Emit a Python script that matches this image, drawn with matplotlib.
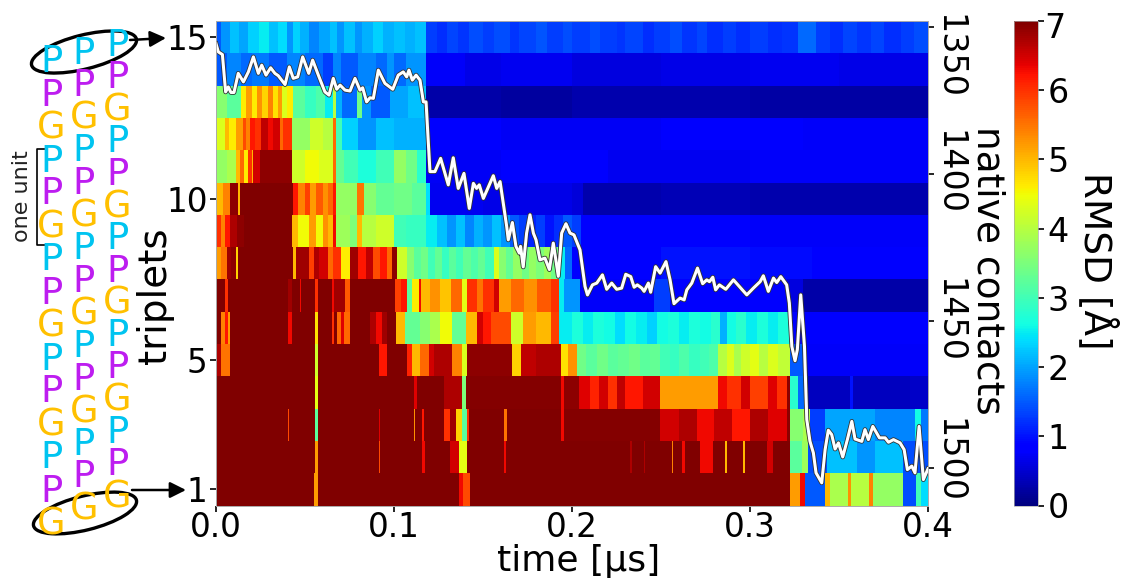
import matplotlib
matplotlib.use("Agg")
import matplotlib.pyplot as plt
from matplotlib.patches import Ellipse

# RMSD per triplet, run-length form: time where a run ends [us] and its value [A]
row_15_end = [.003,.008,.013,.018,.024,.030,.035,.040,.043,.047,.052,.058,.064,.068,.072,.078,.082,.088,.094,.100,.106,.112,.118,.124,.13,.136,.142,.15,.156,.165,.17,.18,.186,.195,.2,.21,.216,.225,.23,.24,.246,.255,.262,.27,.276,.285,.292,.3,.31,.318,.327,.337,.345,.352,.36,.368,.375,.385,.392,.4]
row_15_val = [1.5,1.9,2.2,2.0,2.3,2.5,2.2,2.4,1.9,2.3,2.1,1.8,2.0,2.2,1.9,2.2,1.9,2.1,2.3,2.1,2.2,2.1,2.2,1.3,1.2,1.35,1.25,1.4,1.3,1.4,1.25,1.35,1.45,1.3,1.4,1.3,1.4,1.3,1.25,1.35,1.2,1.3,1.4,1.25,1.35,1.2,1.3,1.2,1.3,1.2,1.25,1.6,1.3,1.2,1.35,1.25,1.35,1.2,1.3,1.4]
row_14_end = [.006,.014,.02,.03,.04,.05,.06,.066,.07,.08,.09,.096,.1,.107,.118,.14,.16,.2,.25,.3,.35,.4]
row_14_val = [1.5,1.8,1.6,1.7,1.5,1.8,1.6,1.3,1.8,1.5,1.8,1.6,1.9,1.6,1.9,.75,.65,.7,.6,.65,.7,.65]
row_13_end = [.006,.014,.017,.02,.023,.026,.029,.032,.035,.037,.04,.043,.05,.056,.061,.066,.0675,.071,.079,.082,.087,.098,.108,.118,.16,.2,.3,.4]
row_13_val = [3.6,3.2,4.6,5.2,4.6,5.3,4.8,5.4,4.7,5.2,4.3,4.6,3.2,2.9,3.1,2.5,4.0,2.1,1.6,3.4,1.9,1.5,2.0,2.2,.25,.2,.28,.22]
row_12_end = [.005,.0075,.011,.015,.017,.019,.022,.025,.029,.032,.036,.0378,.0425,.0528,.06,.066,.0675,.071,.08,.09,.1,.118,.16,.25,.33,.4]
row_12_val = [4.3,5.0,4.6,5.2,5.8,5.4,6.2,6.0,6.6,6.3,6.5,5.6,6.0,3.7,4.2,4.0,5.6,3.0,2.3,1.9,2.2,2.1,.78,.72,.78,.74]
row_11_end = [.006,.011,.0135,.016,.018,.02,.021,.0245,.0425,.05,.058,.066,.0675,.072,.08,.09,.1,.107,.113,.118,.16,.22,.3,.4]
row_11_val = [3.7,3.9,5.0,5.6,4.6,6.0,5.0,6.5,6.9,4.2,4.5,4.3,5.6,3.3,3.0,2.7,3.0,3.7,3.4,2.8,.72,.78,.7,.75]
row_10_end = [.004,.008,.0125,.0135,.0435,.046,.05,.053,.056,.06,.063,.066,.0675,.079,.083,.09,.1,.11,.118,.12,.15,.2,.206,.25,.3,.4]
row_10_val = [5.0,5.4,6.9,5.0,7,6.2,5.4,5.9,5.2,5.7,5.3,5.6,6.2,3.7,5.5,3.6,3.3,3.4,3.2,2.4,.7,.65,.55,.3,.33,.28]
row_9_end = [.003,.005,.008,.012,.016,.0425,.046,.052,.056,.06,.063,.066,.0675,.075,.079,.082,.09,.1,.107,.118,.124,.13,.135,.14,.145,.15,.155,.16,.165,.17,.175,.18,.185,.19,.195,.2,.205,.3,.4]
row_9_val = [6.0,5.4,6.2,6.7,6.9,7,5.0,4.5,5.2,4.5,5.3,5.0,6.3,3.8,3.5,5.0,4.0,4.2,3.0,2.9,2.5,2.2,1.9,2.2,1.8,2.1,1.9,2.2,1.9,1.5,1.3,1.1,1.3,1.0,1.2,1.5,1.3,.8,.75]
row_8_end = [.003,.006,.0085,.011,.0125,.043,.045,.052,.055,.058,.063,.066,.07,.0755,.08,.084,.088,.092,.096,.099,.1017,.1073,.111,.115,.119,.123,.127,.131,.135,.139,.143,.147,.151,.156,.159,.163,.167,.172,.176,.18,.184,.188,.192,.196,.2,.25,.3,.335,.4]
row_8_val = [5.2,5.5,6.8,6.9,4.8,7,5.0,6.8,5.9,6.7,6.5,5.6,6.0,4.6,6.8,6.2,6.6,5.8,6.2,5.6,6.9,4.2,3.6,3.2,3.4,3.0,3.3,2.9,3.2,3.0,3.3,3.1,3.3,3.0,4.3,3.6,3.3,3.7,3.4,3.7,3.5,3.8,3.4,2.5,1.6,.8,1.0,.95,.8]
row_7_end = [.0049,.0068,.0405,.0425,.047,.048,.0556,.0575,.065,.0664,.0726,.0754,.1008,.104,.1073,.1102,.1139,.1152,.1205,.126,.1318,.1383,.1412,.1468,.15,.1562,.159,.1656,.1731,.1806,.1882,.1929,.1957,.2047,.2458,.2551,.3206,.33,.4]
row_7_val = [7,6,7,6.8,7,6.3,7,6,7,6.3,6.8,5.7,7,5.9,6.2,3.2,4.6,6.3,5.0,5.3,4.9,5.6,4.4,6.0,5.5,6.0,6.5,5.2,5.6,5.3,5.7,6.0,2.5,1.9,.75,1.3,.85,.6,.25]
row_6_end = [.003,.005,.0065,.0077,.0405,.0425,.0556,.0575,.065,.0664,.0679,.0705,.072,.0754,.0867,.09,.093,.0961,.1013,.1064,.1148,.1205,.1261,.1327,.1402,.1468,.15,.1543,.1656,.1722,.1797,.1882,.1929,.2,.206,.212,.218,.224,.23,.236,.242,.248,.254,.26,.266,.272,.278,.2832,.2869,.292,.298,.304,.31,.316,.3224,.4]
row_6_val = [7,5.4,6.2,5.2,7,6.3,7,4.7,7,6,7,5.6,6.4,5.6,7,6.7,6.3,6.8,7,5.0,3.3,3.6,3.9,4.5,3.3,5.0,6.5,6.2,5.8,4.2,5.2,5.0,5.9,2.5,2.7,2.5,2.7,2.6,2.4,2.6,2.5,2.3,2.6,2.7,2.5,2.7,2.6,2.8,2.1,2.6,2.8,2.5,2.7,2.5,2.7,.8]
row_5_end = [.003,.0077,.0556,.0575,.0914,.0961,.1073,.1102,.1148,.1195,.1224,.1327,.1383,.1408,.1665,.1712,.18,.1938,.198,.2028,.208,.214,.22,.226,.232,.238,.244,.2495,.255,.26,.266,.272,.277,.2822,.287,.291,.295,.3,.305,.31,.316,.3224,.3308,.4]
row_5_val = [6.7,5.5,7,4.2,7,6.2,7,6.1,5.0,5.6,6.5,6.7,5.4,4.3,6.9,4.8,6.6,6.7,4.7,5.3,3.4,3.2,3.4,3.2,3.3,3.4,3.2,3.3,3.0,2.9,3.1,2.9,3.0,3.1,4.0,4.3,3.9,4.2,4.4,4.0,4.3,4.1,1.5,.75]
row_4_end = [.0556,.0575,.111,.113,.128,.1383,.1402,.1938,.1955,.2037,.21,.215,.22,.225,.23,.24,.2495,.2822,.2869,.295,.3,.31,.315,.3206,.3224,.3271,.3327,.3561,.3579,.39,.4]
row_4_val = [7,4.4,7,6.4,7,6.7,3.5,6.95,6.3,6.9,6.4,6.1,6.5,6.0,6.6,6.2,6.5,5.2,6.3,6.0,6.5,5.9,6.4,6.0,6.9,2.8,1.6,.4,1.0,.4,.45]
row_3_end = [.0405,.0412,.0556,.0575,.0914,.0923,.1111,.112,.1155,.1167,.128,.1315,.1348,.1383,.1412,.1422,.1618,.1637,.1938,.1955,.2495,.26,.27,.28,.29,.30,.31,.3206,.3224,.3299,.3336,.3421,.37,.3925,.3963,.4]
row_3_val = [7,5.8,7,3.2,7,6.4,7,5.3,7,6.2,7,6.0,6.8,4.8,3.2,6.0,7,5.5,7,6.3,6.95,6.5,6.7,6.3,6.6,6.2,6.7,6.4,6.9,3.6,3.9,1.3,2.0,1.8,2.6,1.7]
row_2_end = [.0556,.0575,.0914,.0923,.1155,.1175,.1315,.1363,.1412,.1618,.1632,.2327,.2336,.2402,.241,.2561,.257,.2617,.2636,.272,.2794,.286,.2869,.2963,.2972,.3093,.313,.3224,.329,.3327,.343,.36,.37,.386,.4]
row_2_val = [7,5.2,7,5.8,7,6.3,7,6.5,4.4,7,6.3,7,6.7,7,6.7,7,5.4,7,6.3,7,6.3,7,5,7,5,7,6.5,7,3.2,3.8,1.4,2.2,1.9,2.2,1.4]
row_1_end = [.0551,.0575,.1365,.139,.1427,.3224,.328,.3308,.3421,.3449,.355,.3565,.367,.369,.386,.3935,.3963,.4]
row_1_val = [7,5.2,7,6.3,5.8,7,5.2,6.3,1.5,5.0,3.9,5.3,4.0,5.4,3.7,1.4,3.0,2.4]

# native contacts trace
contact_time = [0,.0013,.0036,.0054,.0069,.0084,.0101,.0125,.0154,.0182,.021,.0238,.0257,.0281,.0307,.0331,.035,.0388,.0412,.0434,.0459,.0487,.0521,.0543,.0575,.0612,.0635,.0659,.0678,.0697,.0725,.0753,.0781,.0809,.0824,.0846,.0865,.0884,.0912,.0949,.0993,.1024,.1052,.1071,.1084,.1103,.1124,.1146,.1165,.118,.1202,.123,.1262,.1305,.1333,.1361,.1393,.1423,.1446,.1464,.1479,.1502,.1558,.1577,.1596,.1633,.1642,.1665,.1685,.1704,.1711,.1726,.1745,.1764,.1783,.1798,.182,.1848,.1873,.1895,.1923,.1942,.1966,.1989,.2011,.2045,.2073,.2087,.2115,.2139,.2171,.2195,.2223,.2251,.2279,.2302,.233,.2349,.2367,.2392,.2405,.2429,.2442,.247,.2495,.2528,.2551,.2573,.2607,.263,.2645,.2673,.2705,.2734,.2757,.2772,.2791,.2807,.2828,.2864,.2907,.2944,.2982,.3019,.3057,.3075,.3103,.3132,.315,.3173,.3206,.3221,.3235,.3253,.3266,.3285,.3306,.3319,.3337,.3356,.3371,.3403,.3422,.344,.3459,.3478,.3497,.3521,.3547,.3572,.359,.3628,.3646,.3665,.369,.3727,.3759,.3778,.3806,.3843,.3866,.3884,.3909,.3927,.395,.3974,.4]
contact_count = [1355.7,1358.5,1359.4,1372.1,1370.4,1372.3,1372.3,1365.8,1368.7,1365.3,1360.2,1365.8,1363,1366.4,1363.9,1365.8,1366.6,1369.6,1363.6,1367.5,1367,1360.2,1365.8,1361.3,1366.4,1372.1,1373.2,1367.5,1371.2,1369.8,1371.5,1371.8,1367.5,1371.5,1370.7,1375.5,1374.1,1374.3,1364.7,1369.2,1371.2,1366.4,1365.3,1367,1364.7,1368.1,1366.4,1368.1,1375.5,1375.5,1399.2,1399.2,1394.7,1403.7,1394.5,1404.9,1399.8,1411.7,1403.2,1404.9,1403.7,1408.3,1400.6,1404.9,1402.6,1417.8,1422.4,1416.5,1424.6,1426.9,1424.6,1431.6,1420.1,1413.9,1420.1,1422.4,1429.2,1428.6,1432.5,1423.5,1434.8,1420.1,1416.9,1420.1,1420.7,1425.8,1438.2,1441.1,1437.7,1437.1,1434.3,1439.2,1437.1,1439.2,1438.8,1434.1,1434.9,1438.5,1437.7,1438.8,1439.9,1437.1,1440.2,1431.5,1433.7,1429.8,1436,1444.1,1442.2,1442.8,1439.4,1437.1,1432,1437.3,1436,1436.6,1435.1,1439.4,1437.7,1439.2,1436,1438.5,1441.1,1438.8,1436.6,1434.6,1439.9,1435.4,1436.9,1434.9,1437.7,1443.9,1458.6,1463.5,1459.7,1441.1,1458.6,1483.5,1490.9,1494.8,1501.6,1505,1493.7,1487.1,1488.6,1493.5,1491.4,1496.2,1490.3,1484.1,1490.1,1490.9,1486.9,1490.3,1485.8,1489.7,1489.7,1491.2,1490.3,1491.4,1493.7,1500.5,1499.3,1501.6,1485.8,1503.9,1500.2]

triplet_ticks = [1, 5, 10, 15]
time_ticks = [0.0, 0.1, 0.2, 0.3, 0.4]
contact_ticks = [1350, 1400, 1450, 1500]
rmsd_ticks = [0, 1, 2, 3, 4, 5, 6, 7]
sequence = ["P", "P", "G"] * 5
letter_colors = {"P1": "#00c4f0", "P2": "#bd1df0", "G": "#ffc000"}

rows_end = [row_1_end, row_2_end, row_3_end, row_4_end, row_5_end, row_6_end, row_7_end, row_8_end,
            row_9_end, row_10_end, row_11_end, row_12_end, row_13_end, row_14_end, row_15_end]
rows_val = [row_1_val, row_2_val, row_3_val, row_4_val, row_5_val, row_6_val, row_7_val, row_8_val,
            row_9_val, row_10_val, row_11_val, row_12_val, row_13_val, row_14_val, row_15_val]

W, H = 1133, 579
fig = plt.figure(figsize=(W / 100, H / 100), dpi=100)


def px_axes(left, top, right, bottom):
    return fig.add_axes([left / W, 1 - bottom / H, (right - left) / W, (bottom - top) / H])


ax = px_axes(216, 21, 928, 505.5)
for i in range(15):
    edges = [0] + rows_end[i]
    mesh = ax.pcolormesh(edges, [i + 0.5, i + 1.5], [rows_val[i]], cmap="jet", vmin=0, vmax=7,
                         linewidth=0, antialiased=False)
ax.set_xlim(0, 0.4)
ax.set_ylim(0.5, 15.5)
ax.set_xticks(time_ticks)
ax.set_xticklabels([f"{t:.1f}" for t in time_ticks])
ax.set_yticks(triplet_ticks)
ax.tick_params(labelsize=23.5, length=4, width=1.2, pad=2)
ax.tick_params(axis="x", pad=0)
ax.set_xlabel("time [µs]", fontsize=26, va="center")
ax.xaxis.set_label_coords(0.51, -0.1145)
ax.set_ylabel("triplets", fontsize=28, va="center")
ax.yaxis.set_label_coords(-0.0857, 0.434)

ax2 = ax.twinx()
ax2.plot(contact_time, contact_count, color="#333333", lw=3.4, solid_joinstyle="round")
ax2.plot(contact_time, contact_count, color="white", lw=2.2, solid_joinstyle="round")
ax2.set_ylim(1512.7, 1348)
ax2.set_yticks(contact_ticks)
ax2.set_yticklabels([])
ax2.tick_params(length=4, width=1.2)
ax2.set_ylabel("native contacts", fontsize=27, rotation=270, va="center")
ax2.yaxis.set_label_coords(1.084, 0.486)

for a in (ax, ax2):
    for spine in a.spines.values():
        spine.set_linewidth(0.6)
        spine.set_color("#aaaaaa")

cax = px_axes(1014, 21, 1038, 505.5)
cbar = fig.colorbar(mesh, cax=cax, ticks=rmsd_ticks)
cbar.ax.set_yticklabels([str(v) for v in rmsd_ticks[:-1]] + [""])
cbar.ax.tick_params(labelsize=24, length=4, width=1.2, pad=3)
cbar.outline.set_linewidth(0.5)
cbar.outline.set_edgecolor("#aaaaaa")
cbar.set_label("RMSD [Å]", fontsize=27, rotation=270, va="center")
cbar.ax.yaxis.set_label_coords(3.46, 0.505)

# left-hand sketch and hand-placed labels, in pixel coordinates
over = fig.add_axes([0, 0, 1, 1], facecolor="none")
over.set_xlim(0, W)
over.set_ylim(H, 0)
over.axis("off")
for x0, y0, step in [(51, 62, 33), (84, 53, 32.6), (117, 45, 32.3)]:
    for k, letter in enumerate(sequence):
        key = letter if letter == "G" else ("P1" if k % 3 == 0 else "P2")
        over.text(x0, y0 + k * step, letter, color=letter_colors[key], fontsize=26.5,
                  ha="center", va="center")
over.add_patch(Ellipse((84, 52), 108, 34, angle=-14, fill=False, ec="black", lw=2.4))
over.add_patch(Ellipse((85, 513), 106, 34, angle=-14, fill=False, ec="black", lw=2.4))
over.annotate("", xy=(166, 38), xytext=(130, 40), arrowprops=dict(arrowstyle="-|>", color="black", lw=1.8, mutation_scale=24, shrinkA=0, shrinkB=0))
over.annotate("", xy=(186, 490), xytext=(132, 490), arrowprops=dict(arrowstyle="-|>", color="black", lw=1.8, mutation_scale=24, shrinkA=0, shrinkB=0))
over.plot([47, 37, 37, 47], [149, 149, 245, 245], color="black", lw=1.2)
over.text(22, 196, "one unit", rotation=90, fontsize=16, ha="center", va="center", color="#222222")
for tick, y in zip(contact_ticks, [57, 172, 321, 461]):
    over.text(949, y, str(tick), rotation=270, fontsize=24, ha="center", va="center")
over.text(1044, 29, "7", fontsize=24, ha="left", va="center")

fig.savefig("out.png", dpi=100)
